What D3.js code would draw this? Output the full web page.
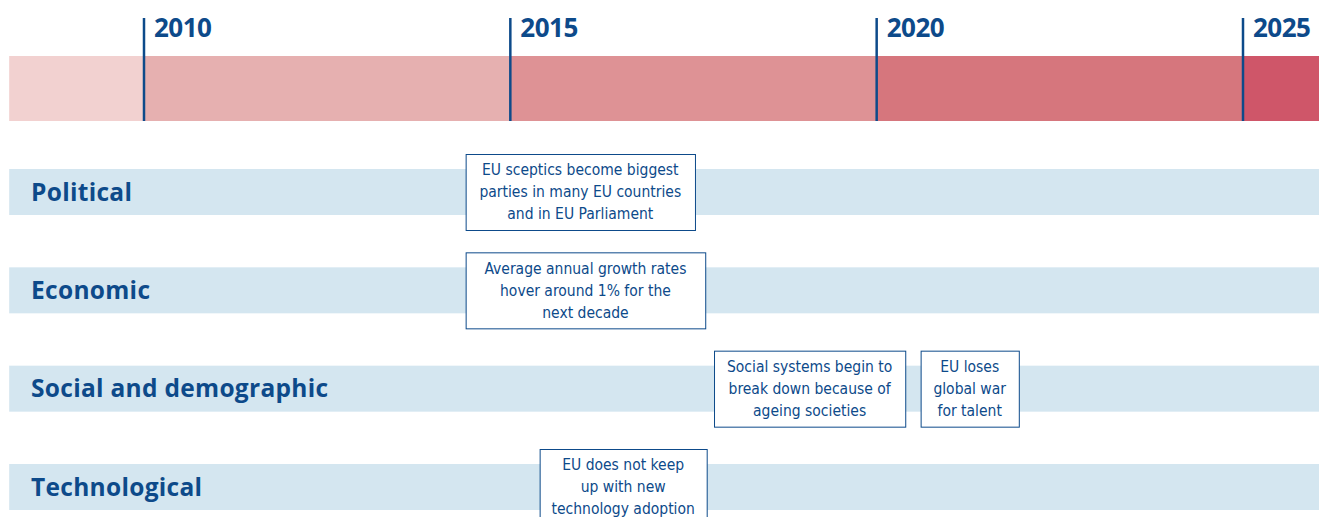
<!DOCTYPE html>
<html>
<head>
<meta charset="utf-8">
<script src="https://cdn.jsdelivr.net/npm/d3@7"></script>
<style>
  body { margin: 0; background: #fff; }
  svg { display: block; }
</style>
</head>
<body>
<div id="timeline"></div>
<script>
// timeline data
const years = [2010, 2015, 2020, 2025];
const periods = [
  { from: 2008.16, to: 2010, color: "#f2d1d0" },
  { from: 2010, to: 2015, color: "#e6b0b0" },
  { from: 2015, to: 2020, color: "#de9295" },
  { from: 2020, to: 2025, color: "#d6767d" },
  { from: 2025, to: 2026.04, color: "#cf5669" },
];
const rows = ["Political", "Economic", "Social and demographic", "Technological"];
const events = [
  { row: "Political", from: 2014.39, to: 2017.52, lines: ["EU sceptics become biggest", "parties in many EU countries", "and in EU Parliament"] },
  { row: "Economic", from: 2014.39, to: 2017.66, lines: ["Average annual growth rates", "hover around 1% for the", "next decade"] },
  { row: "Social and demographic", from: 2017.78, to: 2020.39, lines: ["Social systems begin to", "break down because of", "ageing societies"] },
  { row: "Social and demographic", from: 2020.6, to: 2021.94, lines: ["EU loses", "global war", "for talent"] },
  { row: "Technological", from: 2015.4, to: 2017.68, lines: ["EU does not keep", "up with new", "technology adoption"] },
];

const width = 1319, height = 517;
const blue = "#0d4a8a";

const svg = d3.select("#timeline").append("svg")
  .attr("width", width)
  .attr("height", height);

const x = d3.scaleLinear().domain([2010, 2025]).range([144, 1243]);
const y = d3.scalePoint().domain(rows).range([192, 487]);
const bandH = 46, boxH = 76, lineH = 22;

// coloured period bar
svg.append("g").selectAll("rect")
  .data(periods)
  .join("rect")
  .attr("x", (d) => x(d.from))
  .attr("y", 56)
  .attr("width", (d) => x(d.to) - x(d.from))
  .attr("height", 65)
  .attr("fill", (d) => d.color);

// year ticks
const tick = svg.append("g").selectAll("g")
  .data(years)
  .join("g")
  .attr("transform", (d) => `translate(${x(d)},0)`);
tick.append("line")
  .attr("y1", 18).attr("y2", 121)
  .attr("stroke", blue).attr("stroke-width", 2.5);
tick.append("text")
  .attr("x", 10).attr("y", 37)
  .attr("fill", blue)
  .style("font", "bold 26px 'Open Sans', sans-serif")
  .style("letter-spacing", "-0.5px")
  .text((d) => d);

// row bands + labels
const row = svg.append("g").selectAll("g")
  .data(rows)
  .join("g")
  .attr("transform", (d) => `translate(0,${y(d)})`);
row.append("rect")
  .attr("x", x(2008.16)).attr("y", -bandH / 2)
  .attr("width", x(2026.04) - x(2008.16)).attr("height", bandH)
  .attr("fill", "#d4e6f0");
row.append("text")
  .attr("x", 31).attr("dy", "0.36em")
  .attr("fill", blue)
  .style("font", "bold 24.5px 'Open Sans', sans-serif")
  .style("letter-spacing", "0.3px")
  .text((d) => d);

// event boxes
const ev = svg.append("g").selectAll("g")
  .data(events)
  .join("g")
  .attr("transform", (d) => `translate(${x(d.from)},${y(d.row)})`);
ev.append("rect")
  .attr("x", 0.5).attr("y", -boxH / 2 + 0.5)
  .attr("width", (d) => x(d.to) - x(d.from)).attr("height", boxH)
  .attr("fill", "#fff")
  .attr("stroke", blue).attr("stroke-width", 1);
ev.append("text")
  .attr("fill", blue)
  .attr("text-anchor", "middle")
  .style("font", "15.5px 'DejaVu Sans Condensed', sans-serif")
  .selectAll("tspan")
  .data((d) => d.lines.map((t, i) => ({ t, i, w: x(d.to) - x(d.from) })))
  .join("tspan")
  .attr("x", (d) => d.w / 2)
  .attr("y", (d) => (d.i - 1) * lineH)
  .attr("dy", "0.35em")
  .text((d) => d.t);
</script>
</body>
</html>
